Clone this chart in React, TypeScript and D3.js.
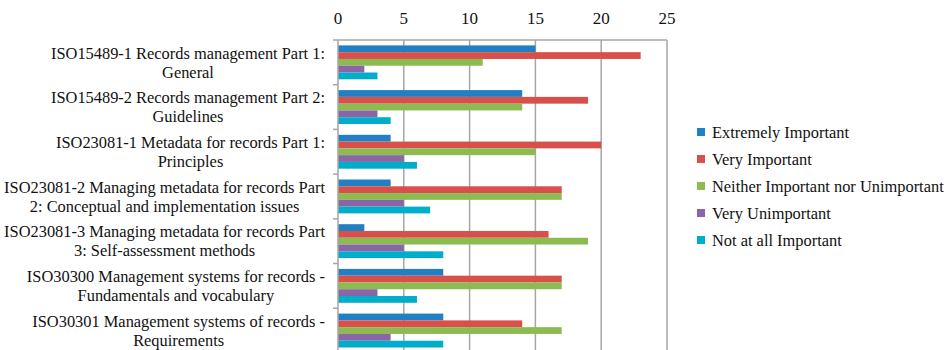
import React, { useEffect, useRef } from "react";
import * as d3 from "d3";

const categories: string[][] = [
  ["ISO15489-1 Records management Part 1:", "General"],
  ["ISO15489-2 Records management Part 2:", "Guidelines"],
  ["ISO23081-1 Metadata for records Part 1:", "Principles"],
  ["ISO23081-2 Managing metadata for records Part", "2: Conceptual and implementation issues"],
  ["ISO23081-3 Managing metadata for records Part", "3: Self-assessment methods"],
  ["ISO30300 Management systems for records -", "Fundamentals and vocabulary"],
  ["ISO30301 Management systems of records -", "Requirements"],
];

const seriesNames = [
  "Extremely Important",
  "Very Important",
  "Neither Important nor Unimportant",
  "Very Unimportant",
  "Not at all Important",
];

const extremelyImportant = [15, 14, 4, 4, 2, 8, 8];
const veryImportant = [23, 19, 20, 17, 16, 17, 14];
const neither = [11, 14, 15, 17, 19, 17, 17];
const veryUnimportant = [2, 3, 5, 5, 5, 3, 4];
const notAtAll = [3, 4, 6, 7, 8, 6, 8];

const seriesValues = [extremelyImportant, veryImportant, neither, veryUnimportant, notAtAll];
const colors = ["#2080c3", "#d9504b", "#8cbb52", "#8a66a6", "#00aecb"];
const xTicks = [0, 5, 10, 15, 20, 25];

const W = 946;
const H = 350;
const FONT = "'Liberation Serif', serif";
const FS = 16.4;

export default function App() {
  const ref = useRef<SVGSVGElement>(null);

  useEffect(() => {
    const svg = d3.select(ref.current!);
    svg.selectAll("*").remove();

    const left = 338;
    const right = 667;
    const top = 40;
    const step = 44.7;

    const x = d3.scaleLinear().domain([0, 25]).range([left, right]);
    const y = d3
      .scaleBand<number>()
      .domain(d3.range(categories.length))
      .range([top, top + step * categories.length])
      .paddingInner(0)
      .paddingOuter(0);
    const inner = d3
      .scaleBand<number>()
      .domain(d3.range(seriesNames.length))
      .range([5.4, y.bandwidth() - 5.4]);

    // gridlines
    svg
      .append("g")
      .selectAll("line")
      .data(xTicks.filter((t) => t > 0))
      .join("line")
      .attr("x1", (d) => x(d))
      .attr("x2", (d) => x(d))
      .attr("y1", top)
      .attr("y2", H)
      .attr("stroke", "#a6a6a6")
      .attr("stroke-width", 1.5);

    // top axis
    svg
      .append("line")
      .attr("x1", left)
      .attr("x2", right)
      .attr("y1", top)
      .attr("y2", top)
      .attr("stroke", "#a6a6a6")
      .attr("stroke-width", 1.5);

    svg
      .append("g")
      .selectAll("text")
      .data(xTicks)
      .join("text")
      .attr("x", (d) => x(d))
      .attr("y", 24)
      .attr("text-anchor", "middle")
      .attr("font-family", FONT)
      .attr("font-size", 17)
      .attr("fill", "#111")
      .text((d) => String(d));

    // bars
    seriesValues.forEach((vals, s) => {
      svg
        .append("g")
        .selectAll("rect")
        .data(vals)
        .join("rect")
        .attr("x", x(0))
        .attr("y", (_, i) => (y(i) as number) + (inner(s) as number))
        .attr("width", (d) => x(d) - x(0))
        .attr("height", inner.bandwidth())
        .attr("fill", colors[s]);
    });

    // left axis with category ticks
    svg
      .append("line")
      .attr("x1", left)
      .attr("x2", left)
      .attr("y1", top)
      .attr("y2", H)
      .attr("stroke", "#a6a6a6")
      .attr("stroke-width", 1.5);
    svg
      .append("g")
      .selectAll("line")
      .data(d3.range(categories.length + 1))
      .join("line")
      .attr("x1", left - 5)
      .attr("x2", left)
      .attr("y1", (i) => top + i * step)
      .attr("y2", (i) => top + i * step)
      .attr("stroke", "#a6a6a6")
      .attr("stroke-width", 1.5);

    // category labels: two centered lines, block right-aligned to the axis
    categories.forEach((lines, i) => {
      const cy = (y(i) as number) + y.bandwidth() / 2;
      const g = svg.append("g");
      const texts = lines.map((t, k) =>
        g
          .append("text")
          .attr("y", cy + (k === 0 ? -9.5 : 9.5))
          .attr("dy", "0.35em")
          .attr("text-anchor", "middle")
          .attr("font-family", FONT)
          .attr("font-size", FS)
          .attr("fill", "#111")
          .text(t)
      );
      const widths = texts.map((t) => (t.node() as SVGTextElement).getComputedTextLength());
      const cx = 325 - Math.max(...widths) / 2;
      texts.forEach((t) => t.attr("x", cx));
    });

    // legend
    const lg = svg.append("g");
    seriesNames.forEach((name, s) => {
      const cy = 132 + s * 27;
      lg.append("rect")
        .attr("x", 697)
        .attr("y", cy - 4)
        .attr("width", 8)
        .attr("height", 8)
        .attr("fill", colors[s]);
      lg.append("text")
        .attr("x", 712)
        .attr("y", cy)
        .attr("dy", "0.35em")
        .attr("font-family", FONT)
        .attr("font-size", FS)
        .attr("fill", "#111")
        .text(name);
    });
  }, []);

  return (
    <svg
      ref={ref}
      width={W}
      height={H}
      style={{ position: "absolute", left: 0, top: 0, background: "#fff" }}
    />
  );
}
